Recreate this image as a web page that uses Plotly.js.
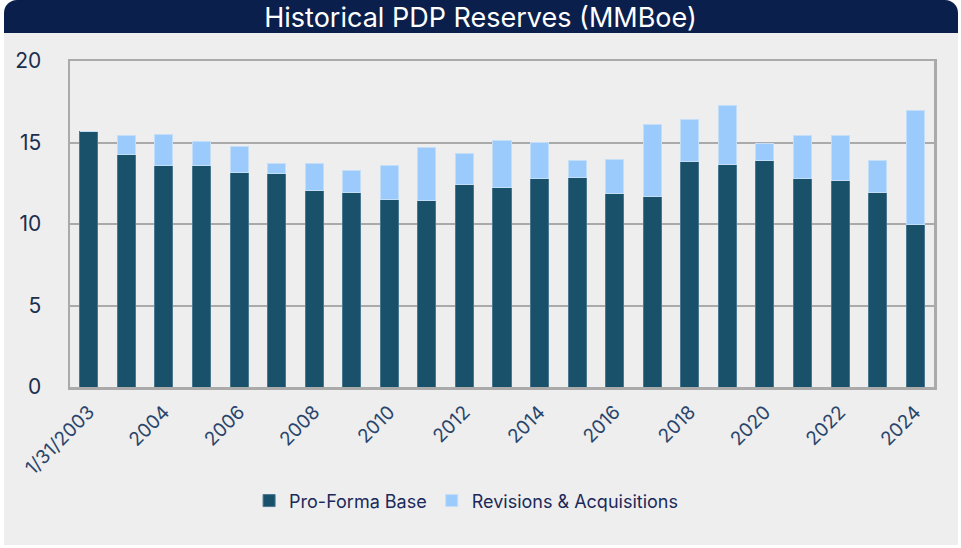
<!DOCTYPE html>
<html>
<head>
<meta charset="utf-8">
<script src="https://cdn.plot.ly/plotly-3.0.1.min.js"></script>
<style>
  html, body { margin: 0; padding: 0; background: #ffffff; }
  #wrap { position: relative; width: 961px; height: 548px; }
  #card { position: absolute; left: 4px; top: 0; width: 954px; height: 545px; background: #eeeeee; border-radius: 13px 13px 0 0; }
  #banner { position: absolute; left: 4px; top: 0; width: 954px; height: 33px; background: #0b1f4d; border-radius: 13px 13px 0 0; }
  #chart { position: absolute; left: 0; top: 0; width: 961px; height: 548px; }
</style>
</head>
<body>
<div id="wrap">
  <div id="card"></div>
  <div id="banner"></div>
  <div id="chart"></div>
</div>
<script>
const categories = ["1/31/2003","2003","2004","2005","2006","2007","2008","2009","2010","2011","2012","2013","2014","2015","2016","2017","2018","2019","2020","2021","2022","2023","2024"];
const tickLabels = ["1/31/2003","2004","2006","2008","2010","2012","2014","2016","2018","2020","2022","2024"];
const proFormaBase = [15.65,14.29,13.58,13.60,13.19,13.07,12.04,11.96,11.49,11.45,12.45,12.23,12.80,12.88,11.86,11.70,13.82,13.68,13.91,12.78,12.68,11.94,9.94];
const revisionsAcq = [0,1.15,1.92,1.49,1.58,0.67,1.66,1.35,2.11,3.27,1.86,2.92,2.19,1.00,2.07,4.39,2.58,3.58,1.04,2.68,2.76,1.93,7.03];

const fontFam = "Inter, 'Open Sans', sans-serif";

const traces = [
  {
    type: "bar", name: "Pro-Forma Base", x: categories, y: proFormaBase,
    marker: { color: "#19506a", line: { color: "#4a7890", width: 1 } },
    hoverinfo: "x+y"
  },
  {
    type: "bar", name: "Revisions & Acquisitions", x: categories, y: revisionsAcq,
    marker: { color: "#9bcbfd", line: { color: "#c4def8", width: 1 } },
    hoverinfo: "x+y"
  }
];

const layout = {
  width: 961, height: 548,
  paper_bgcolor: "rgba(0,0,0,0)",
  plot_bgcolor: "#eeeeee",
  barmode: "stack",
  bargap: 0.52,
  margin: { l: 70, r: 27, t: 61, b: 161 },
  font: { family: fontFam, color: "#1b2f4f" },
  title: {
    text: "Historical PDP Reserves (MMBoe)",
    font: { family: fontFam, size: 27, color: "#ffffff" },
    x: 0.5, xanchor: "center", xref: "container",
    y: 0.968, yanchor: "middle", yref: "container"
  },
  xaxis: {
    type: "category",
    tickmode: "array", tickvals: tickLabels, ticktext: tickLabels,
    tickangle: -45,
    tickfont: { family: fontFam, size: 19, color: "#2a456b" },
    showgrid: false,
    showline: true, linecolor: "#aaaaaa", linewidth: 2.5, mirror: true,
    ticks: "", ticklabelstandoff: 4
  },
  yaxis: {
    range: [0, 20], dtick: 5, tick0: 0,
    tickfont: { family: fontFam, size: 21, color: "#1b2f4f" },
    showgrid: true, gridcolor: "#aaaaaa", gridwidth: 2,
    showline: true, linecolor: "#aaaaaa", linewidth: 2.5, mirror: true,
    zeroline: false, ticks: "", ticklabelstandoff: 22
  },
  legend: {
    orientation: "h",
    xref: "container", yref: "container",
    x: 0.485, xanchor: "center",
    y: 0.086, yanchor: "middle",
    font: { family: fontFam, size: 18, color: "#1a2a5a" },
    bgcolor: "rgba(0,0,0,0)",
    traceorder: "normal",
    itemwidth: 30
  },
  showlegend: true
};

Plotly.newPlot("chart", traces, layout, { displayModeBar: false, staticPlot: true });
</script>
</body>
</html>
